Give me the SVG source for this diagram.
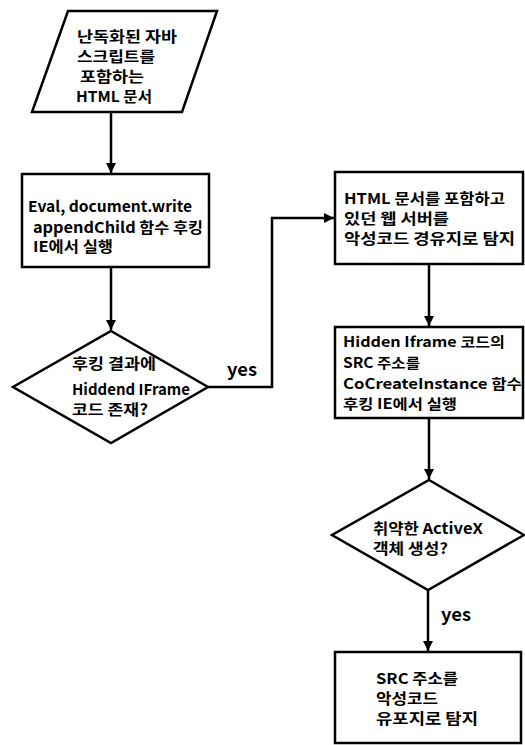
<svg xmlns="http://www.w3.org/2000/svg" width="525" height="745" viewBox="0 0 525 745">
<style>
.shape{fill:#fff;stroke:#000;stroke-width:2.5}
.conn{fill:none;stroke:#000;stroke-width:2.5}
text{font-family:"Noto Sans CJK KR","Liberation Sans",sans-serif;font-size:15px;font-weight:700;fill:#000}
.lbl{font-size:18px}
.sm{font-size:14px}
</style>
<defs>
<marker id="arr" markerUnits="userSpaceOnUse" markerWidth="10" markerHeight="10" viewBox="0 0 10 10" refX="10" refY="5" orient="auto">
<path d="M0,0 L10,5 L0,10 Z" fill="#000"/>
</marker>
</defs>
<g id="connectors">
<path class="conn" d="M111,112 V173" marker-end="url(#arr)"/>
<path class="conn" d="M111,267 V330" marker-end="url(#arr)"/>
<path class="conn" d="M208,387 H272 V218 H334" marker-end="url(#arr)"/>
<path class="conn" d="M429,264 V326" marker-end="url(#arr)"/>
<path class="conn" d="M429,418 V479" marker-end="url(#arr)"/>
<path class="conn" d="M428,590 V651" marker-end="url(#arr)"/>
<text class="lbl" x="227" y="376" textLength="30" lengthAdjust="spacingAndGlyphs">yes</text>
<text class="lbl" x="441" y="621" textLength="30" lengthAdjust="spacingAndGlyphs">yes</text>
</g>
<g id="start">
<polygon class="shape" points="68,11 217,11 182,112 32,112"/>
<text x="77" y="42" textLength="100" lengthAdjust="spacingAndGlyphs">난독화된 자바</text>
<text x="77" y="62" textLength="78" lengthAdjust="spacingAndGlyphs">스크립트를</text>
<text x="80" y="82" textLength="64" lengthAdjust="spacingAndGlyphs">포함하는</text>
<text x="76" y="102" textLength="76" lengthAdjust="spacingAndGlyphs">HTML 문서</text>
</g>
<g id="hook">
<rect class="shape" x="22" y="174" width="187" height="93"/>
<text x="28" y="212" textLength="164" lengthAdjust="spacingAndGlyphs">Eval, document.write</text>
<text x="33" y="233" textLength="170" lengthAdjust="spacingAndGlyphs">appendChild 함수 후킹</text>
<text x="33" y="252" textLength="80" lengthAdjust="spacingAndGlyphs">IE에서 실행</text>
</g>
<g id="decision1">
<polygon class="shape" points="111,331 208,387 111,443 13,387"/>
<text x="72" y="369" textLength="84" lengthAdjust="spacingAndGlyphs">후킹 결과에</text>
<text x="72" y="395" textLength="118" lengthAdjust="spacingAndGlyphs">Hiddend IFrame</text>
<text x="72" y="415" textLength="76" lengthAdjust="spacingAndGlyphs">코드 존재?</text>
</g>
<g id="detect-server">
<rect class="shape" x="335" y="172" width="188" height="92"/>
<text x="344" y="204" textLength="161" lengthAdjust="spacingAndGlyphs">HTML 문서를 포함하고</text>
<text x="344" y="224" textLength="105" lengthAdjust="spacingAndGlyphs">있던 웹 서버를</text>
<text x="344" y="244" textLength="171" lengthAdjust="spacingAndGlyphs">악성코드 경유지로 탐지</text>
</g>
<g id="hook-src">
<rect class="shape" x="335" y="327" width="188" height="91"/>
<text class="sm" x="343" y="347" textLength="162" lengthAdjust="spacingAndGlyphs">Hidden Iframe 코드의</text>
<text class="sm" x="343" y="368" textLength="77" lengthAdjust="spacingAndGlyphs">SRC 주소를</text>
<text class="sm" x="343" y="389" textLength="179" lengthAdjust="spacingAndGlyphs">CoCreateInstance 함수</text>
<text class="sm" x="343" y="409" textLength="114" lengthAdjust="spacingAndGlyphs">후킹 IE에서 실행</text>
</g>
<g id="decision2">
<polygon class="shape" points="429,480 524,535 428,590 332,535"/>
<text x="373" y="534" textLength="110" lengthAdjust="spacingAndGlyphs">취약한 ActiveX</text>
<text x="373" y="554" textLength="75" lengthAdjust="spacingAndGlyphs">객체 생성?</text>
</g>
<g id="detect-dist">
<rect class="shape" x="335" y="652" width="186" height="91"/>
<text x="376" y="684" textLength="82" lengthAdjust="spacingAndGlyphs">SRC 주소를</text>
<text x="376" y="704" textLength="62" lengthAdjust="spacingAndGlyphs">악성코드</text>
<text x="376" y="724" textLength="102" lengthAdjust="spacingAndGlyphs">유포지로 탐지</text>
</g>
</svg>
